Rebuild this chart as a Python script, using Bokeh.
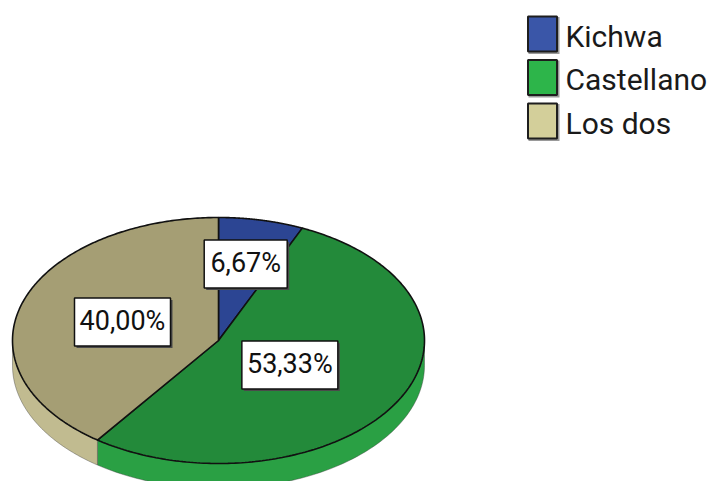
import numpy as np
from bokeh.plotting import figure
from bokeh.models import Range1d, ColumnDataSource
from bokeh.core.properties import value
from bokeh.embed import file_html
from bokeh.resources import INLINE

# ---- data ----
categories = ["Kichwa", "Castellano", "Los dos"]
percentages = [6.67, 53.33, 40.00]

# ---- styles ----
top_colors = ["#2c4593", "#238a3a", "#a59e74"]
side_colors = ["#2a438e", "#2aa044", "#c1bb90"]
legend_colors = ["#3a56a8", "#2db54a", "#d3cf9a"]
label_radius_frac = [0.635, 0.40, 0.49]
box_w = [83, 96, 96]
box_h = 48
FONT = "Roboto"

W, H = 712, 481
cx, cy, rx, ry, depth = 218, 340, 206, 123, 25

p = figure(width=W, height=H, x_range=Range1d(0, W), y_range=Range1d(H, 0),
           output_backend="svg", toolbar_location=None, min_border=0)
p.axis.visible = False
p.grid.visible = False
p.outline_line_color = None
p.background_fill_color = "white"
p.border_fill_color = "white"


def pt(phi):
    # phi: radians, clockwise from 12 o'clock
    return cx + rx * np.sin(phi), cy - ry * np.cos(phi)


total = float(sum(percentages))
bounds = np.concatenate([[0.0], np.cumsum(percentages) / total * 2 * np.pi])

# side (thickness) of the visible front half
side_xs, side_ys, side_fc = [], [], []
for i in range(len(categories)):
    a = max(bounds[i], np.pi / 2)
    b = min(bounds[i + 1], 3 * np.pi / 2)
    if a < b:
        phis = np.linspace(a, b, 120)
        x, y = pt(phis)
        side_xs.append(list(np.concatenate([x, x[::-1]])))
        side_ys.append(list(np.concatenate([y, y[::-1] + depth])))
        side_fc.append(side_colors[i])
p.patches(xs="xs", ys="ys", fill_color="fc", line_color="#3a3a3a", line_width=0.8, line_alpha=0.5,
          source=ColumnDataSource(dict(xs=side_xs, ys=side_ys, fc=side_fc)))

# top slices
top_xs, top_ys = [], []
for i in range(len(categories)):
    phis = np.linspace(bounds[i], bounds[i + 1], 200)
    x, y = pt(phis)
    top_xs.append([cx] + list(x) + [cx])
    top_ys.append([cy] + list(y) + [cy])
p.patches(xs="xs", ys="ys", fill_color="fc", line_color="#111111", line_width=1.6,
          source=ColumnDataSource(dict(xs=top_xs, ys=top_ys, fc=top_colors)))

# value labels
mids = (bounds[:-1] + bounds[1:]) / 2
lx = [cx + f * rx * np.sin(m) for f, m in zip(label_radius_frac, mids)]
ly = [cy - f * ry * np.cos(m) for f, m in zip(label_radius_frac, mids)]
texts = [f"{v:.2f}%".replace(".", ",") for v in percentages]
lsrc = ColumnDataSource(dict(x=lx, y=ly, xs=[v + 2 for v in lx], ys=[v + 2 for v in ly],
                             ty=[v - 1 for v in ly], w=box_w, t=texts))
p.rect(x="xs", y="ys", width="w", height=box_h, fill_color="#4a4a4a", line_color=None, source=lsrc)
p.rect(x="x", y="y", width="w", height=box_h, fill_color="white", line_color="#111111",
       line_width=1.5, source=lsrc)
p.text(x="x", y="ty", text="t", text_align="center", text_baseline="alphabetic",
       text_font=value(FONT), text_font_size="27px", text_color="#111111", source=lsrc)

# legend (drawn manually at the top right)
leg_x, leg_y0, leg_step = 542, 33.5, 43.5
ly_leg = [leg_y0 + i * leg_step for i in range(len(categories))]
gsrc = ColumnDataSource(dict(x=[leg_x] * len(categories), y=ly_leg,
                             sx=[leg_x + 1.5] * len(categories), sy=[v + 1.5 for v in ly_leg],
                             tx=[leg_x + 23] * len(categories), ty=[v + 2 for v in ly_leg],
                             c=legend_colors, t=categories))
p.rect(x="sx", y="sy", width=31, height=37, fill_color="#9a9a9a", line_color=None, source=gsrc)
p.rect(x="x", y="y", width=29, height=35, fill_color="c", line_color="#1e1e1e", line_width=2,
       source=gsrc)
p.text(x="tx", y="ty", text="t", text_align="left", text_baseline="alphabetic",
       text_font=value(FONT), text_font_size="30px", text_color="#1a1a1a", source=gsrc)

open("out.html", "w").write(file_html(p, INLINE))
